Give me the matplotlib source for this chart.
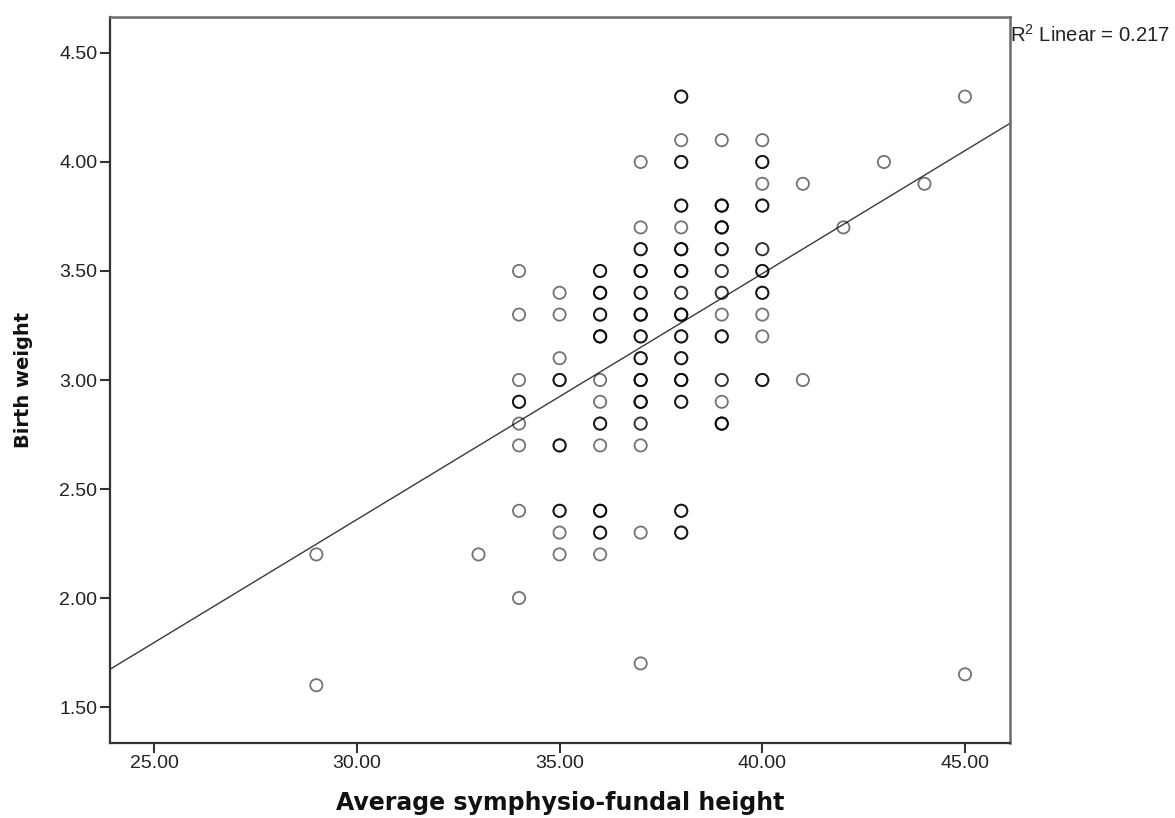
import numpy as np
import matplotlib
matplotlib.use("Agg")
import matplotlib.pyplot as plt

plt.rcParams['font.family'] = ['Liberation Sans', 'DejaVu Sans']
plt.rcParams['mathtext.fontset'] = 'custom'
plt.rcParams['mathtext.rm'] = 'Liberation Sans'

# Scatter data: fundal height (cm), birth weight (kg), number of cases at that spot
fundal_height = [29, 29,
                 33,
                 34, 34, 34, 34, 34, 34, 34, 34,
                 35, 35, 35, 35, 35, 35, 35, 35,
                 36, 36, 36, 36, 36, 36, 36, 36, 36, 36, 36,
                 37, 37, 37, 37, 37, 37, 37, 37, 37, 37, 37, 37, 37, 37,
                 38, 38, 38, 38, 38, 38, 38, 38, 38, 38, 38, 38, 38, 38, 38,
                 39, 39, 39, 39, 39, 39, 39, 39, 39, 39, 39,
                 40, 40, 40, 40, 40, 40, 40, 40, 40, 40,
                 41, 41, 42, 43, 44, 45, 45]
birth_weight = [2.2, 1.6,
                2.2,
                3.5, 3.3, 3.0, 2.9, 2.8, 2.7, 2.4, 2.0,
                3.4, 3.3, 3.1, 3.0, 2.7, 2.4, 2.3, 2.2,
                3.5, 3.4, 3.3, 3.2, 3.0, 2.9, 2.8, 2.7, 2.4, 2.3, 2.2,
                4.0, 3.7, 3.6, 3.5, 3.4, 3.3, 3.2, 3.1, 3.0, 2.9, 2.8, 2.7, 2.3, 1.7,
                4.3, 4.1, 4.0, 3.8, 3.7, 3.6, 3.5, 3.4, 3.3, 3.2, 3.1, 3.0, 2.9, 2.4, 2.3,
                4.1, 3.8, 3.7, 3.6, 3.5, 3.4, 3.3, 3.2, 3.0, 2.9, 2.8,
                4.1, 4.0, 3.9, 3.8, 3.6, 3.5, 3.4, 3.3, 3.2, 3.0,
                3.9, 3.0, 3.7, 4.0, 3.9, 4.3, 1.65]
n_cases = [1, 1,
           1,
           1, 1, 1, 3, 1, 1, 1, 1,
           1, 1, 1, 3, 3, 3, 1, 1,
           3, 4, 3, 4, 1, 1, 3, 1, 4, 3, 1,
           1, 1, 3, 4, 3, 4, 3, 3, 4, 4, 2, 1, 1, 1,
           3, 1, 3, 3, 1, 4, 4, 2, 4, 3, 3, 4, 3, 3, 3,
           1, 4, 4, 3, 2, 2, 1, 3, 2, 1, 4,
           1, 3, 1, 3, 2, 3, 3, 1, 1, 3,
           1, 1, 1, 1, 1, 1, 1]

# fit line as shown on the chart
fit_slope = 0.1128
fit_intercept = -1.024
r_squared = 0.217

x_ticks = [25, 30, 35, 40, 45]
y_ticks = [1.5, 2.0, 2.5, 3.0, 3.5, 4.0, 4.5]

fig = plt.figure(figsize=(11.75, 8.18), dpi=100)
ax = fig.add_axes([110 / 1175, 1 - 743 / 818, 900 / 1175, 726 / 818])

xs = np.repeat(fundal_height, n_cases)
ys = np.repeat(birth_weight, n_cases)
ax.scatter(xs, ys, s=8.8 ** 2, facecolors='none',
           edgecolors=(0, 0, 0, 0.55), linewidths=1.3, zorder=3)

xlim = (23.91, 46.11)
line_x = np.array(xlim)
ax.plot(line_x, fit_intercept + fit_slope * line_x, color='#3a3a3a', lw=1.0, zorder=2)

ax.set_xlim(*xlim)
ax.set_ylim(1.335, 4.665)
ax.set_xticks(x_ticks)
ax.set_xticklabels([f'{v:.2f}' for v in x_ticks])
ax.set_yticks(y_ticks)
ax.set_yticklabels([f'{v:.2f}' for v in y_ticks])
ax.tick_params(length=7, width=1.5, direction='out', labelsize=14,
               color='#333333', labelcolor='#222222', pad=2)

for side in ['left', 'bottom']:
    ax.spines[side].set_color('#333333')
    ax.spines[side].set_linewidth(1.6)
for side in ['top', 'right']:
    ax.spines[side].set_color('#6b6b6b')
    ax.spines[side].set_linewidth(1.8)

ax.set_xlabel('Average symphysio-fundal height', family='DejaVu Sans',
              fontweight='bold', fontsize=17, color='#111111')
ax.xaxis.set_label_coords(0.5, -0.066)
ax.set_ylabel('Birth weight', family='DejaVu Sans', fontweight='bold',
              fontsize=14, color='#111111')
ax.yaxis.set_label_coords(-0.0856, 0.5)

ax.text(1.0, 0.976, f'R$^2$ Linear = {r_squared}', transform=ax.transAxes,
        ha='left', va='center', fontsize=14.6, color='#222222')

fig.savefig('out.png', dpi=100)
